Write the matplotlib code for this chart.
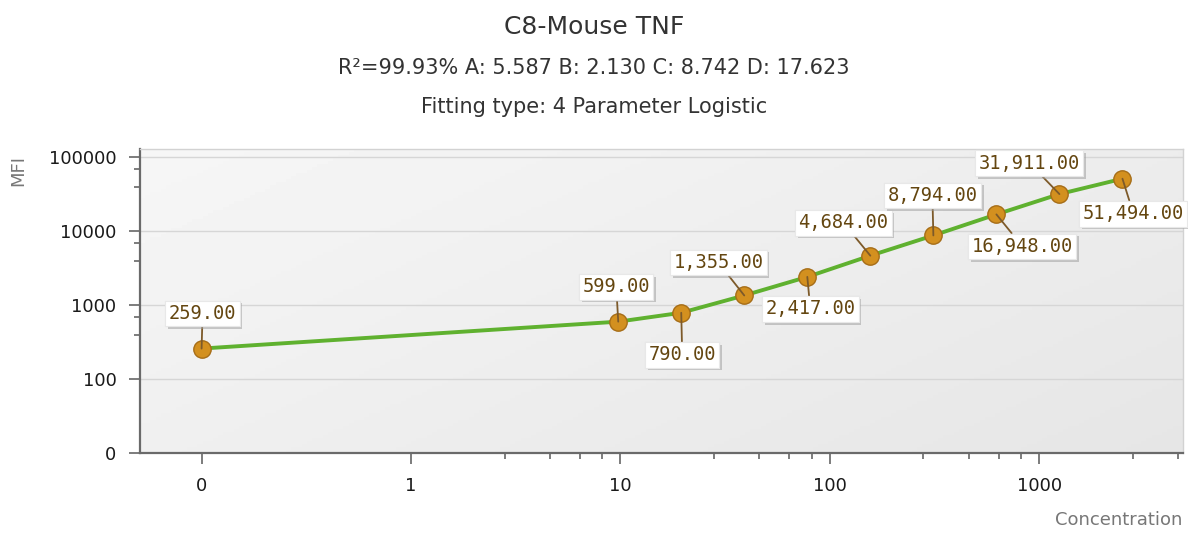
import numpy as np
import matplotlib
matplotlib.use('Agg')
import matplotlib.pyplot as plt
import matplotlib.patheffects as pe
from matplotlib.ticker import FixedLocator, NullFormatter

# data
conc = [0, 9.77, 19.53, 39.06, 78.13, 156.25, 312.5, 625, 1250, 2500]
mfi = [259, 599, 790, 1355, 2417, 4684, 8794, 16948, 31911, 51494]
x_ticks = [0.1, 1, 10, 100, 1000]
x_ticklabels = ['0', '1', '10', '100', '1000']
y_ticks = [10, 100, 1000, 10000, 100000]
y_ticklabels = ['0', '100', '1000', '10000', '100000']

title = 'C8-Mouse TNF'
subtitle = 'R\u00b2=99.93% A: 5.587 B: 2.130 C: 8.742 D: 17.623'
fit_text = 'Fitting type: 4 Parameter Logistic'

# label offsets in pixels (dx, dy) from each point
label_offsets = [(1, 35), (-2, 35), (1, -42), (-26, 33), (3, -32),
                 (-27, 33), (-1, 40), (26, -32), (-30, 31), (11, -35)]

W, H = 1188, 533
fig = plt.figure(figsize=(W / 100, H / 100), dpi=100)
rect = [140 / W, 1 - 453 / H, (1183 - 140) / W, (453 - 149) / H]

# gradient background behind the plot
bg = fig.add_axes(rect, zorder=0)
gx, gy = np.meshgrid(np.linspace(0, 1, 200), np.linspace(0, 1, 100))
grad = 0.965 - 0.065 * (0.6 * gx + 0.4 * gy)
bg.imshow(grad, cmap='gray', vmin=0, vmax=1, aspect='auto', extent=[0, 1, 0, 1])
bg.set_axis_off()

ax = fig.add_axes(rect, zorder=1)
ax.set_facecolor('none')
ax.set_xscale('log')
ax.set_yscale('log')

# "0" concentration sits on the first log tick
xs = [c if c > 0 else x_ticks[0] for c in conc]

ax.plot(xs, mfi, color='#5fb12f', lw=2.8, zorder=2, solid_capstyle='round')
ax.plot(xs, mfi, 'o', ms=12.5, mfc='#d3901f', mec='#a66d17', mew=1.0, zorder=3)

for x, y, v, (dx, dy) in zip(xs, mfi, mfi, label_offsets):
	ann = ax.annotate('{:,.2f}'.format(v), xy=(x, y), xytext=(dx, dy),
					textcoords='offset pixels', ha='center', va='center',
					fontsize=13.5, family='DejaVu Sans Mono', color='#644610',
					bbox=dict(boxstyle='square,pad=0.18', fc='white', ec='#e8e8e8', lw=0.8),
					arrowprops=dict(arrowstyle='-', color='#7d5a2a', lw=1.3,
									shrinkA=0, shrinkB=0),
					zorder=4)
	ann.get_bbox_patch().set_path_effects([
		pe.withSimplePatchShadow(offset=(2, -2), shadow_rgbFace='#999999', alpha=0.5),
		pe.Normal()])

ax.set_xlim(0.0508, 4865)
ax.set_ylim(10, 130000)

ax.xaxis.set_major_locator(FixedLocator(x_ticks))
ax.set_xticklabels(x_ticklabels)
ax.yaxis.set_major_locator(FixedLocator(y_ticks))
ax.set_yticklabels(y_ticklabels)

# minor ticks: evenly spaced in value within each decade
x_minor = [d * m for d in [1, 10, 100, 1000] for m in [2.8, 4.6, 6.4, 8.2]]
y_minor = [d * m for d in [100, 1000, 10000] for m in [4, 7]]
ax.xaxis.set_minor_locator(FixedLocator(x_minor))
ax.yaxis.set_minor_locator(FixedLocator(y_minor))
ax.xaxis.set_minor_formatter(NullFormatter())
ax.yaxis.set_minor_formatter(NullFormatter())

ax.tick_params(which='major', length=8, width=1.2, color='#666666',
			   labelsize=13, labelcolor='#1a1a1a')
ax.tick_params(axis='x', which='major', pad=9)
ax.tick_params(axis='y', which='major', pad=9)
ax.tick_params(which='minor', length=4, width=1.2, color='#666666')

ax.grid(axis='y', which='major', color='#d6d6d6', lw=1)
ax.set_axisbelow(True)
for side in ['left', 'bottom']:
	ax.spines[side].set_color('#6a6a6a')
	ax.spines[side].set_linewidth(1.6)
for side in ['top', 'right']:
	ax.spines[side].set_color('#d2d2d2')
	ax.spines[side].set_linewidth(1.0)

fig.text(0.5, 1 - 27 / H, title, ha='center', va='center', fontsize=18, color='#333333')
fig.text(0.5, 1 - 68 / H, subtitle, ha='center', va='center', fontsize=15, color='#333333')
fig.text(0.5, 1 - 107 / H, fit_text, ha='center', va='center', fontsize=15, color='#333333')

fig.text(18 / W, 1 - 170 / H, 'MFI', rotation=90, ha='center', va='center',
		 fontsize=13, color='#777777')
fig.text(1182 / W, 1 - 520 / H, 'Concentration', ha='right', va='center',
		 fontsize=13, color='#777777')

fig.savefig('out.png', dpi=100)
